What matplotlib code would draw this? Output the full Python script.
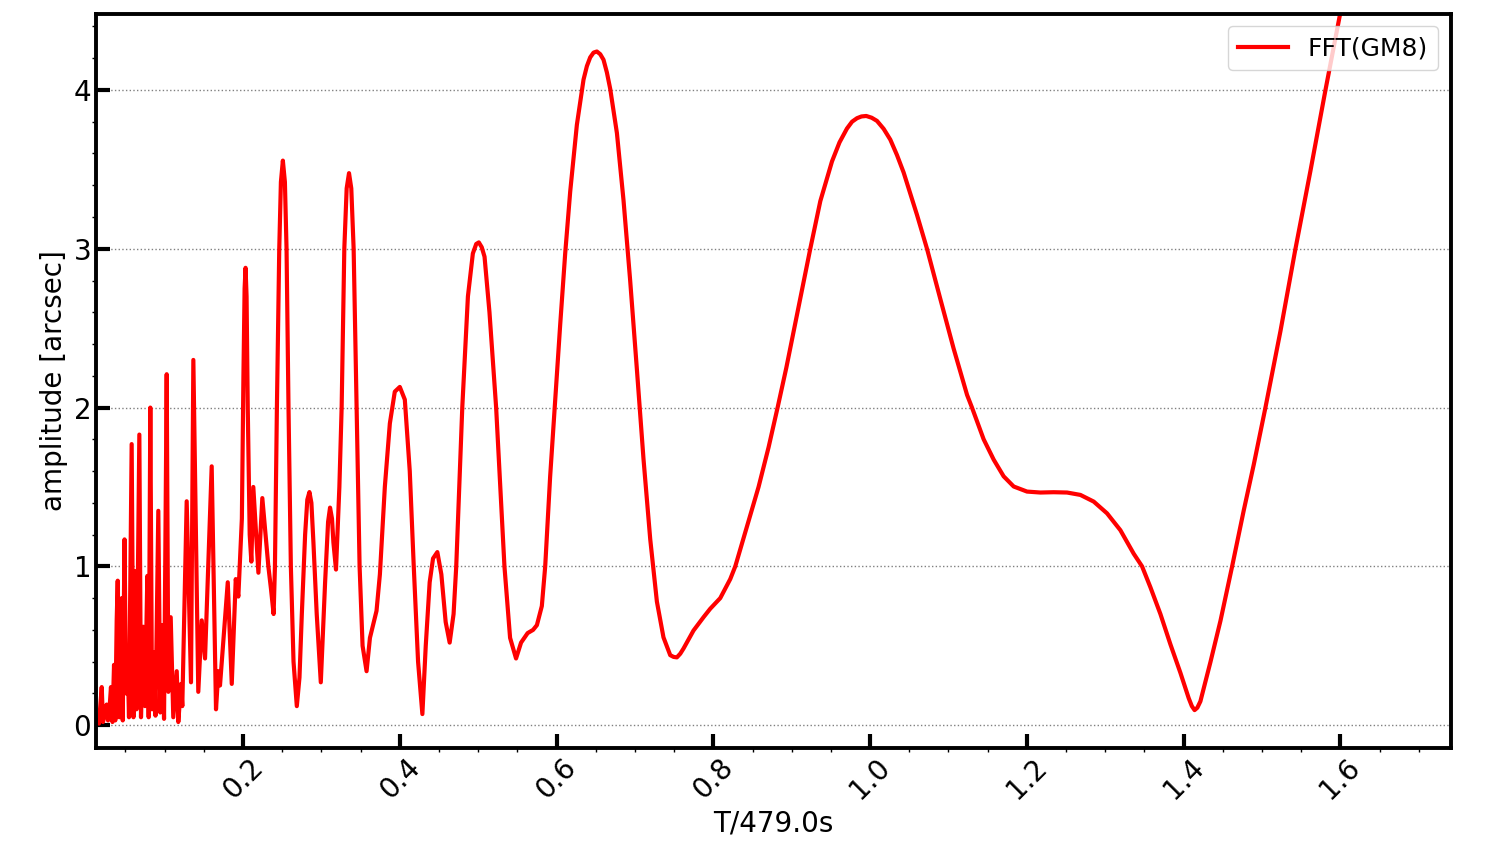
import numpy as np
import matplotlib
matplotlib.use("Agg")
import matplotlib.pyplot as plt
from matplotlib.ticker import MultipleLocator

# period in units of 479.0 s, and FFT amplitude (arcsec)
period = [
    0.0130, 0.0140, 0.0162, 0.0197, 0.0213, 0.0232, 0.0260, 0.0277, 0.0296, 0.0315,
    0.0334, 0.0354, 0.0370, 0.0388, 0.0401, 0.0421, 0.0452, 0.0465, 0.0488, 0.0507,
    0.0526, 0.0545, 0.0579, 0.0602, 0.0622, 0.0641, 0.0677, 0.0698, 0.0728, 0.0749,
    0.0779, 0.0796, 0.0817, 0.0839, 0.0864, 0.0883, 0.0919, 0.0944, 0.0966, 0.0992,
    0.1026, 0.1047, 0.1077, 0.1110, 0.1154, 0.1174, 0.1209, 0.1225, 0.1281, 0.1302,
    0.1336, 0.1366, 0.1429, 0.1473, 0.1515, 0.1600, 0.1655, 0.1685, 0.1706, 0.1805,
    0.1856, 0.1907, 0.1940, 0.1985, 0.2005, 0.2020, 0.2032, 0.2045, 0.2060, 0.2085,
    0.2106, 0.2131, 0.2196, 0.2246, 0.2323, 0.2356, 0.2390,
    0.2407, 0.2432, 0.2462, 0.2483, 0.2508, 0.2534, 0.2555, 0.2580, 0.2610, 0.2644,
    0.2686, 0.2720, 0.2750, 0.2792, 0.2820, 0.2847, 0.2872, 0.2898, 0.2940, 0.2992,
    0.3047, 0.3085, 0.3110, 0.3135, 0.3153, 0.3186, 0.3229, 0.3258, 0.3292, 0.3322,
    0.3352, 0.3381, 0.3411, 0.3449, 0.3487, 0.3525, 0.3576, 0.3619, 0.3703, 0.3746,
    0.3809, 0.3873, 0.3936, 0.4000, 0.4064, 0.4127, 0.4178, 0.4233, 0.4288, 0.4331,
    0.4381, 0.4424, 0.4479, 0.4530, 0.4585, 0.4636, 0.4686, 0.4720, 0.4797, 0.4869,
    0.4932, 0.4975, 0.5008, 0.5045, 0.5081, 0.5144, 0.5229, 0.5335, 0.5407, 0.5483,
    0.5547, 0.5631, 0.5700, 0.5749, 0.5812, 0.5855, 0.5918, 0.5982, 0.6046, 0.6110,
    0.6174, 0.6259, 0.6344, 0.6387, 0.6429, 0.6472, 0.6514, 0.6557, 0.6599, 0.6642,
    0.6684, 0.6770, 0.6854, 0.6939, 0.7025, 0.7109, 0.7195, 0.7280, 0.7364, 0.7450,
    0.7493, 0.7535, 0.7578, 0.7620, 0.7747, 0.7875, 0.7960, 0.8088, 0.8216, 0.8280,
    0.8429, 0.8577, 0.8705, 0.8820, 0.8931, 0.9033, 0.9135, 0.9237, 0.9365, 0.9514,
    0.9610, 0.9705, 0.9770, 0.9833, 0.9890, 0.9951, 1.0020, 1.0088, 1.0173, 1.0258,
    1.0343, 1.0428, 1.0598, 1.0726, 1.0896, 1.1066, 1.1237, 1.1300, 1.1449, 1.1577,
    1.1704, 1.1832, 1.2002, 1.2172, 1.2342, 1.2513, 1.2683, 1.2853, 1.3023, 1.3193,
    1.3363, 1.3470, 1.3576, 1.3704, 1.3831, 1.3959, 1.4065, 1.4105, 1.4140, 1.4175,
    1.4214, 1.4342, 1.4470, 1.4619, 1.4767, 1.4895, 1.5044, 1.5235, 1.5427, 1.5618,
    1.5810, 1.6001, 1.6200,
]
amplitude = [
    0.02, 0.03, 0.01, 0.24, 0.02, 0.06, 0.13, 0.03, 0.10, 0.24,
    0.02, 0.38, 0.03, 0.66, 0.91, 0.05, 0.80, 0.03, 1.17, 0.20,
    0.45, 0.05, 1.77, 0.05, 0.97, 0.10, 1.83, 0.05, 0.62, 0.12,
    0.94, 0.05, 2.00, 0.10, 0.46, 0.06, 1.35, 0.08, 0.63, 0.04,
    2.21, 0.21, 0.68, 0.05, 0.34, 0.02, 0.26, 0.12, 1.41, 0.98,
    0.27, 2.30, 0.21, 0.66, 0.42, 1.63, 0.10, 0.34, 0.25, 0.90,
    0.26, 0.92, 0.81, 1.30, 2.20, 2.75, 2.88, 2.70, 2.00, 1.20,
    1.03, 1.50, 0.96, 1.43, 1.00, 0.86, 0.70,
    1.00, 2.00, 3.00, 3.42, 3.555, 3.42, 3.00, 2.00, 1.00, 0.40,
    0.12, 0.30, 0.70, 1.20, 1.42, 1.468, 1.40, 1.15, 0.70, 0.27,
    0.90, 1.28, 1.37, 1.30, 1.15, 0.98, 1.50, 2.00, 3.00, 3.38,
    3.476, 3.38, 3.00, 2.00, 1.00, 0.50, 0.34, 0.55, 0.72, 0.95,
    1.50, 1.90, 2.10, 2.13, 2.05, 1.60, 1.00, 0.40, 0.07, 0.50,
    0.90, 1.05, 1.09, 0.95, 0.65, 0.52, 0.70, 1.00, 2.00, 2.70,
    2.97, 3.03, 3.04, 3.01, 2.95, 2.60, 2.00, 1.00, 0.55, 0.42,
    0.52, 0.58, 0.60, 0.63, 0.75, 1.00, 1.565, 2.04, 2.52, 2.97,
    3.36, 3.78, 4.065, 4.15, 4.205, 4.235, 4.242, 4.225, 4.19, 4.11,
    4.008, 3.728, 3.306, 2.80, 2.239, 1.677, 1.171, 0.778, 0.553, 0.441,
    0.43, 0.427, 0.45, 0.483, 0.596, 0.68, 0.733, 0.80, 0.92, 1.00,
    1.25, 1.50, 1.75, 2.00, 2.25, 2.50, 2.75, 3.00, 3.30, 3.55,
    3.67, 3.757, 3.80, 3.822, 3.833, 3.836, 3.825, 3.805, 3.755, 3.687,
    3.59, 3.48, 3.214, 3.00, 2.684, 2.371, 2.08, 2.00, 1.80, 1.672,
    1.567, 1.503, 1.471, 1.465, 1.467, 1.465, 1.45, 1.408, 1.334, 1.228,
    1.08, 1.00, 0.869, 0.70, 0.51, 0.33, 0.17, 0.12, 0.095, 0.11,
    0.15, 0.397, 0.657, 1.00, 1.352, 1.641, 2.00, 2.48, 3.00, 3.49,
    4.00, 4.49, 5.00,
]

fig, ax = plt.subplots(figsize=(15, 8.66), dpi=100)
fig.subplots_adjust(left=0.064, right=0.967, bottom=0.136, top=0.984)

ax.plot(period, amplitude, color="red", lw=3, label="FFT(GM8)")

ax.set_xlim(0.0124, 1.7405)
ax.set_ylim(-0.145, 4.479)

ax.xaxis.set_major_locator(MultipleLocator(0.2))
ax.xaxis.set_minor_locator(MultipleLocator(0.05))
ax.yaxis.set_major_locator(MultipleLocator(1))
ax.yaxis.set_minor_locator(MultipleLocator(0.2))

ax.tick_params(which="major", direction="in", length=10, width=3, labelsize=20)
ax.tick_params(which="minor", direction="out", length=3, width=1)
for lab in ax.get_xticklabels():
    lab.set_rotation(45)

for s in ax.spines.values():
    s.set_linewidth(2.8)

ax.grid(axis="y", linestyle=":", color="gray", lw=1)

ax.set_xlabel("T/479.0s", fontsize=20)
ax.set_ylabel("amplitude [arcsec]", fontsize=20)
ax.legend(loc="upper right", fontsize=18)

fig.savefig("out.png")
